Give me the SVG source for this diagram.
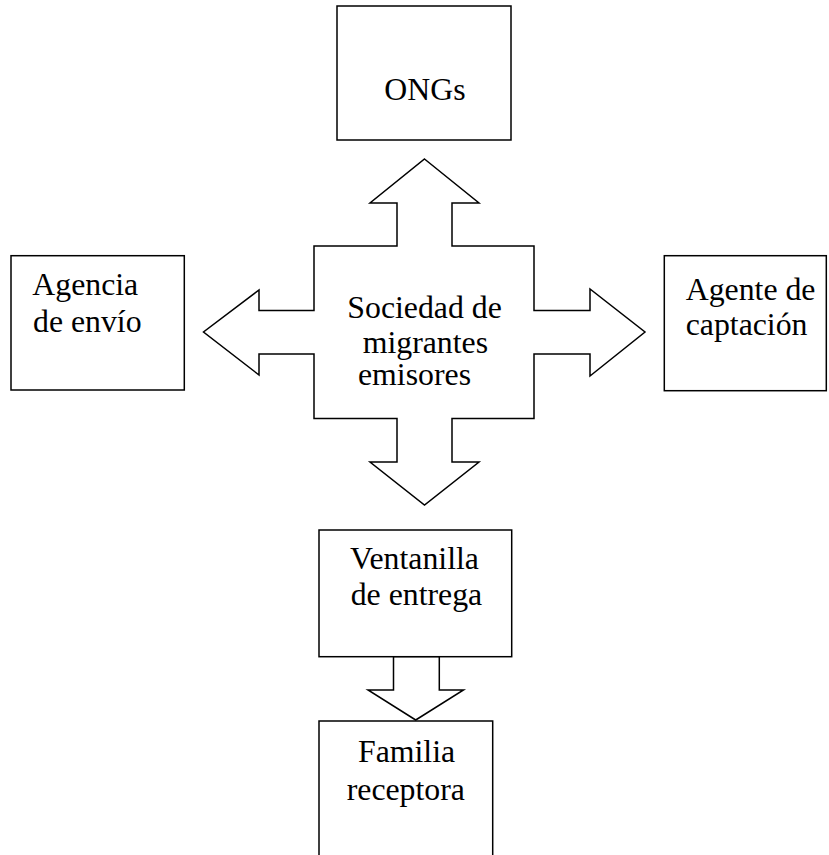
<svg xmlns="http://www.w3.org/2000/svg" width="829" height="855" viewBox="0 0 829 855">
<style>
.box{fill:#fff;stroke:#000;stroke-width:1.5}
.arr{fill:#fff;stroke:#000;stroke-width:1.5;stroke-linejoin:miter}
text{font-family:"Liberation Serif","Times New Roman",serif;font-size:31.8px;fill:#000}
</style>
<rect width="829" height="855" fill="#fff"/>
<g id="connectors">
<polygon class="arr" points="424.5,159 479,203 452,203 452,246 534,246 534,310.5 590,310.5 590,289 645,332 590,376 590,354 534,354 534,418.5 452,418.5 452,462 479,462 424.5,505 370,462 397,462 397,418.5 314,418.5 314,354 259,354 259,375 203.5,332 259,290 259,310.5 314,310.5 314,246 397,246 397,203 370,203"/>
<polygon class="arr" points="393.5,656.5 393.5,690 368,690 415.7,720 463.5,690 439.3,690 439.3,656.5"/>
</g>
<g id="center">
<text x="347.3" y="317.7">Sociedad de</text>
<text x="362.7" y="352.7">migrantes</text>
<text x="358" y="385">emisores</text>
</g>
<g id="ongs">
<rect class="box" x="337" y="6" width="174" height="134"/>
<text x="384.3" y="100">ONGs</text>
</g>
<g id="agencia">
<rect class="box" x="11" y="255.7" width="173.3" height="134.3"/>
<text x="32.3" y="295">Agencia</text>
<text x="33" y="331.7">de envío</text>
</g>
<g id="agente">
<rect class="box" x="664.3" y="255.7" width="162" height="135"/>
<text x="685.7" y="299.5">Agente de</text>
<text x="685.7" y="335">captación</text>
</g>
<g id="ventanilla">
<rect class="box" x="319" y="530" width="192.7" height="126.7"/>
<text x="350" y="569">Ventanilla</text>
<text x="350.7" y="605">de entrega</text>
</g>
<g id="familia">
<path class="box" d="M319,856 V721 H492.7 V856"/>
<text x="358" y="762.3">Familia</text>
<text x="346.7" y="800">receptora</text>
</g>
</svg>
